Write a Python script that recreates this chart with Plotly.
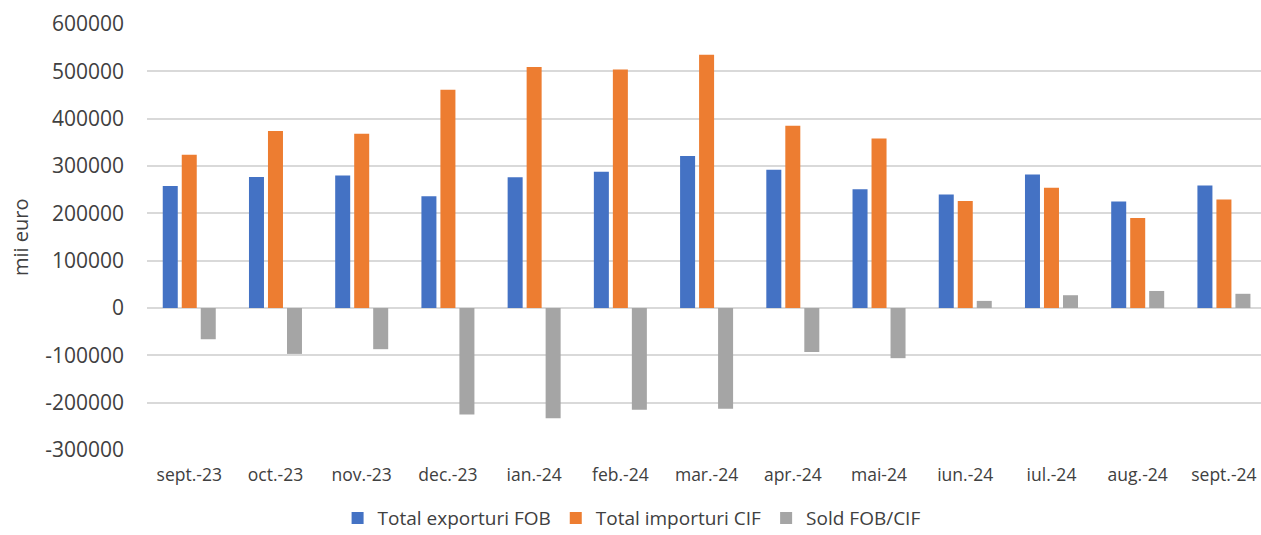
import plotly.graph_objects as go

months = ["sept.-23", "oct.-23", "nov.-23", "dec.-23", "ian.-24", "feb.-24", "mar.-24",
          "apr.-24", "mai-24", "iun.-24", "iul.-24", "aug.-24", "sept.-24"]
exports_fob = [258000, 277000, 280000, 236000, 276000, 288000, 321000,
               292000, 251000, 240000, 282000, 225000, 259000]
imports_cif = [324000, 374000, 368000, 461000, 509000, 504000, 535000,
               385000, 358000, 226000, 254000, 190000, 229000]
sold_fob_cif = [-66000, -97000, -87000, -225000, -233000, -215000, -213000,
                -93000, -106000, 15000, 27000, 36000, 30000]
y_ticks = [-300000, -200000, -100000, 0, 100000, 200000, 300000, 400000, 500000, 600000]

FONT = "Open Sans"
TXT = "#404040"
fig = go.Figure()
fig.add_trace(go.Bar(x=months, y=exports_fob, name="Total exporturi FOB",
                     marker=dict(color="#4472C4", line=dict(width=0))))
fig.add_trace(go.Bar(x=months, y=imports_cif, name="Total importuri CIF",
                     marker=dict(color="#ED7D31", line=dict(width=0))))
fig.add_trace(go.Bar(x=months, y=sold_fob_cif, name="Sold FOB/CIF",
                     marker=dict(color="#A5A5A5", line=dict(width=0))))

fig.update_layout(
    width=1261, height=535,
    margin=dict(l=147, r=0, t=24, b=85, autoexpand=False),
    paper_bgcolor="white", plot_bgcolor="white",
    barmode="group", bargap=0.339, bargroupgap=0.21,
    font=dict(family=FONT, color=TXT),
    showlegend=True,
    legend=dict(orientation="h", x=0.435, xanchor="center", y=-0.16, yanchor="middle",
                font=dict(size=19, color=TXT, family=FONT), itemwidth=30,
                traceorder="normal"),
    annotations=[dict(text="mii euro", textangle=-90, xref="paper", yref="paper",
                      x=-0.114, y=0.5, xanchor="center", yanchor="middle", showarrow=False,
                      font=dict(size=20, color=TXT, family=FONT))],
)
fig.update_xaxes(type="category", range=[-0.49, 12.43], showgrid=False, showline=False,
                 zeroline=False, ticks="", automargin=False,
                 tickfont=dict(size=17.5, color=TXT, family=FONT),
                 ticklabelstandoff=12)
fig.update_yaxes(range=[-300000, 600000], tickvals=y_ticks, ticktext=[str(v) for v in y_ticks],
                 showgrid=True, gridcolor="#D9D9D9", gridwidth=1.5,
                 zeroline=True, zerolinecolor="#D9D9D9", zerolinewidth=1.5,
                 showline=False, ticks="", automargin=False,
                 tickfont=dict(size=21, color=TXT, family=FONT),
                 ticklabelstandoff=22)

fig.write_html("out.html", config={"displayModeBar": False},
               post_script="document.body.style.margin='0';document.body.style.overflow='hidden';")
